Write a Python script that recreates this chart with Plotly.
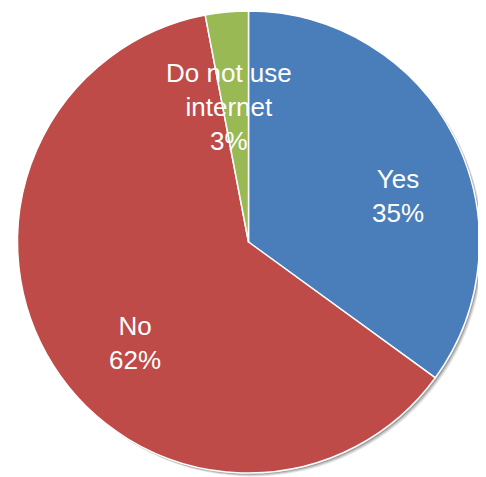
import plotly.graph_objects as go

categories = ["Yes", "No", "Do not use internet"]
values = [35, 62, 3]
label_lines = ["Yes", "No", "Do not use<br>internet"]
colors = ["#4A7EBB", "#BE4B48", "#98B954"]

# page body has an 8px margin, so the figure is drawn at (8, 8)
OFF = 8
W, H = 486 - OFF, 477 - OFF
cx, cy, r = 248.5 - OFF, 242.0 - OFF, 231.0  # pixel geometry of the pie (figure coords)

def px(x):
    return x / W

def py(y):
    return 1 - y / H

fig = go.Figure()
fig.add_trace(go.Pie(
    labels=categories,
    values=values,
    sort=False,
    direction="clockwise",
    rotation=0,
    marker=dict(colors=colors, line=dict(color="white", width=1.5)),
    textinfo="none",
    hoverinfo="label+percent",
    showlegend=False,
    domain=dict(x=[px(cx - r), px(cx + r)], y=[py(cy + r), py(cy - r)]),
))

# label block centres (pixels, reference image coords)
label_pos = [(398, 196), (135, 343), (229, 107)]
for name, val, (lx, ly) in zip(label_lines, values, label_pos):
    fig.add_annotation(
        x=px(lx - OFF), y=py(ly - OFF), xref="paper", yref="paper",
        text=f"{name}<br>{val}%", showarrow=False,
        font=dict(family="Liberation Sans, Arial, sans-serif", size=26, color="white"),
        xanchor="center", yanchor="middle", align="center",
    )

# soft shadow behind pie
for off, alpha in [(3.5, 0.10), (2.5, 0.15), (1.5, 0.2)]:
    fig.add_shape(
        type="circle", xref="paper", yref="paper", layer="below",
        x0=px(cx - r + off), x1=px(cx + r + off),
        y0=py(cy + r + off), y1=py(cy - r + off),
        fillcolor=f"rgba(0,0,0,{alpha})", line=dict(width=0),
    )

fig.update_layout(
    width=W, height=H,
    margin=dict(l=0, r=0, t=0, b=0),
    paper_bgcolor="white", plot_bgcolor="white",
)
fig.write_html("out.html")
